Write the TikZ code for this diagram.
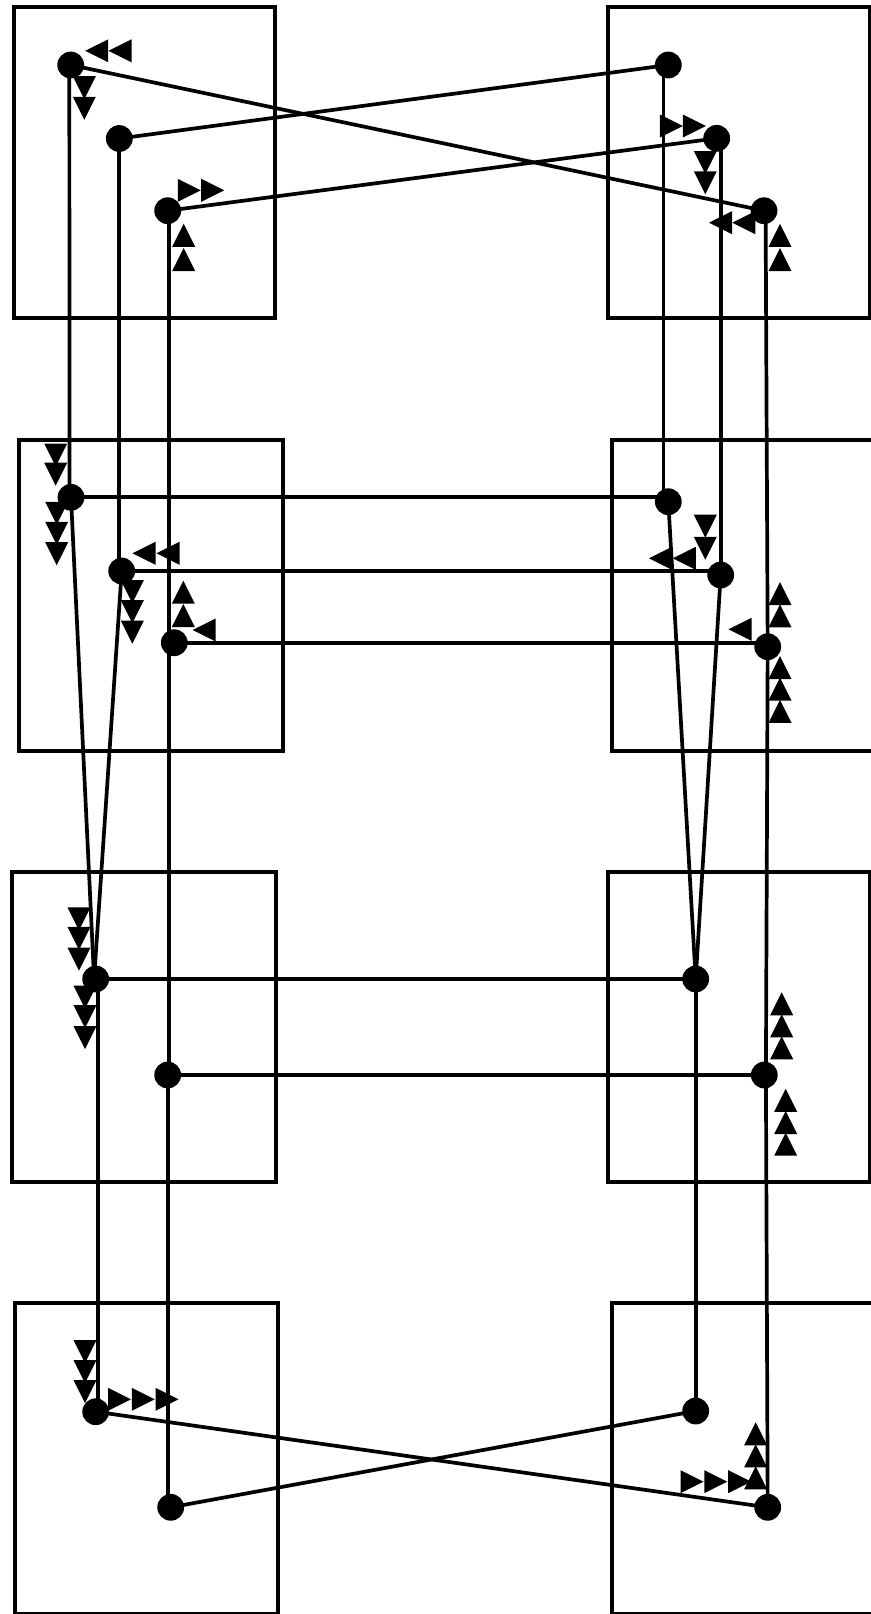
\documentclass[tikz,border=0pt]{standalone}
\begin{document}
\begin{tikzpicture}[x=0.5pt,y=-0.5pt,
  dot/.style={circle,fill=black,draw=none,inner sep=0pt,minimum size=13.4pt},
  link/.style={line width=1.85pt,black},
  frame/.style={line width=1.85pt,black},
  triR/.pic={\fill[black] (-11.5,-11.5) -- (11.5,0) -- (-11.5,11.5) -- cycle;},
  triL/.pic={\fill[black] (11.5,-11.5) -- (-11.5,0) -- (11.5,11.5) -- cycle;},
  triD/.pic={\fill[black] (-11.5,-11.5) -- (0,11.5) -- (11.5,-11.5) -- cycle;},
  triU/.pic={\fill[black] (-11.5,11.5) -- (0,-11.5) -- (11.5,11.5) -- cycle;}]
\useasboundingbox (0,0) rectangle (871,1614);
\fill[white] (0,0) rectangle (871,1614);
\begin{scope}
\clip (0,0) rectangle (871,1614);
% frames
\draw[frame] (13.7,7) rectangle (275.3,318.3);
\draw[frame] (608.3,7) rectangle (870.3,318.3);
\draw[frame] (19,440) rectangle (282.7,750.7);
\draw[frame] (612.3,440) rectangle (874.3,750.7);
\draw[frame] (12.3,872.3) rectangle (276,1182.3);
\draw[frame] (608.3,872.3) rectangle (870.3,1182.3);
\draw[frame] (15,1303.3) rectangle (278.3,1614.3);
\draw[frame] (612.3,1303.3) rectangle (874.3,1614.3);
\end{scope}
% dots
\node[dot] (L1a) at (70.7,65) {};
\node[dot] (L1b) at (119.3,138.5) {};
\node[dot] (L1c) at (167.7,210.7) {};
\node[dot] (R1a) at (668.3,65) {};
\node[dot] (R1b) at (716.7,138.3) {};
\node[dot] (R1c) at (764,210.7) {};
\node[dot] (L2a) at (71,497.3) {};
\node[dot] (L2b) at (121.7,571) {};
\node[dot] (L2c) at (174.3,642.7) {};
\node[dot] (R2a) at (668.3,501.7) {};
\node[dot] (R2b) at (720.7,575) {};
\node[dot] (R2c) at (767.7,646.7) {};
\node[dot] (L3a) at (95.7,979) {};
\node[dot] (L3b) at (167.7,1075) {};
\node[dot] (R3a) at (695.7,979) {};
\node[dot] (R3b) at (764.3,1075) {};
\node[dot] (L4a) at (95.7,1411.7) {};
\node[dot] (L4b) at (170.7,1507.3) {};
\node[dot] (R4a) at (695.7,1411) {};
\node[dot] (R4b) at (767.7,1507.3) {};
% top crossings
\draw[link] (L1a.center) -- (R1c.center);
\draw[link] (L1b.center) -- (R1a.center);
\draw[link] (L1c.center) -- (R1b.center);
% left verticals
\draw[link] ([xshift=-0.7pt]L1a.center) -- ([xshift=-0.7pt]L2a.center);
\draw[link] (L1b.center) -- (L1b.center |- L2b.center);
\draw[link] ([xshift=0.8pt]L1c.center) -- ([xshift=0.8pt]L3b.center);
\draw[link] (L3b.center) -- ([xshift=-1.5pt]L4b.center);
% right verticals
\draw[link] ([xshift=-2.4pt]R1a.center) -- ([xshift=-2.4pt]R2a.center);
\draw[link] (R2b.center |- R1b.center) -- (R2b.center);
\draw[link] ([xshift=0.8pt]R1c.center) -- (R2c.center);
\draw[link] (R2c.center) -- ([xshift=0.8pt]R3b.center);
\draw[link] ([xshift=0.8pt]R3b.center) -- (R4b.center);
% middle horizontals
\draw[link] (L2a.center) -- (L2a.center -| R2a.center);
\draw[link] (L2b.center) -- (L2b.center -| R2b.center);
\draw[link] (L2c.center) -- (L2c.center -| R2c.center);
% converging diagonals
\draw[link] (L2a.center) -- ([xshift=-0.8pt]L3a.center);
\draw[link] (L2b.center) -- ([xshift=-0.8pt]L3a.center);
\draw[link] (R2a.center) -- (R3a.center);
\draw[link] (R2b.center) -- (R3a.center);
% lower horizontals
\draw[link] (L3a.center) -- (R3a.center);
\draw[link] (L3b.center) -- (R3b.center);
% lower verticals
\draw[link] ([xshift=1pt]L3a.center) -- ([xshift=1pt]L4a.center);
\draw[link] (R3a.center) -- (R4a.center);
% bottom crossings
\draw[link] (L4a.center) -- (R4b.center);
\draw[link] (L4b.center) -- (R4a.center);
% markers near L1a
\pic at (96.7,50.8) {triL};
\pic at (120,50.8) {triL};
\pic at (84.3,87.7) {triD};
\pic at (84.3,108.3) {triD};
% L1c
\pic at (189.3,190.3) {triR};
\pic at (212.7,190.3) {triR};
\pic at (183.7,235.3) {triU};
\pic at (183.7,259.5) {triU};
% R1b
\pic at (671.3,126) {triR};
\pic at (694.3,126) {triR};
\pic at (705.3,162.5) {triD};
\pic at (705.3,182.8) {triD};
% R1c
\pic at (720.5,222.7) {triL};
\pic at (743.8,222.7) {triL};
\pic at (780,235.3) {triU};
\pic at (780,259.7) {triU};
% L2a
\pic at (55.7,455) {triD};
\pic at (55.7,474.2) {triD};
\pic at (56.7,513.3) {triD};
\pic at (56.7,533.3) {triD};
\pic at (56.7,553.7) {triD};
% L2b
\pic at (144,553.3) {triL};
\pic at (168,553.3) {triL};
\pic at (132.3,591.7) {triD};
\pic at (132.3,611.7) {triD};
\pic at (132.3,632.2) {triD};
% L2c
\pic at (183.3,592.2) {triU};
\pic at (183.3,615.5) {triU};
\pic at (204.2,630) {triL};
% R2b
\pic at (705.3,526.2) {triD};
\pic at (705.3,548.3) {triD};
\pic at (660.5,558.3) {triL};
\pic at (684.3,558.3) {triL};
% R2c
\pic at (780,593.7) {triU};
\pic at (780,615.8) {triU};
\pic at (740,629.3) {triL};
\pic at (780,667.5) {triU};
\pic at (780,689.2) {triU};
\pic at (780,711.3) {triU};
% L3a
\pic at (79,918.8) {triD};
\pic at (79,938.3) {triD};
\pic at (79,959.2) {triD};
\pic at (85,997) {triD};
\pic at (85,1016.7) {triD};
\pic at (85,1037.5) {triD};
% R3b
\pic at (781.7,1003.8) {triU};
\pic at (781.7,1025.8) {triU};
\pic at (781.7,1047.8) {triU};
\pic at (785.7,1100.3) {triU};
\pic at (785.7,1122.5) {triU};
\pic at (785.7,1144.2) {triU};
% L4a
\pic at (85,1351.7) {triD};
\pic at (85,1371.7) {triD};
\pic at (85,1391.7) {triD};
\pic at (119.5,1399.3) {triR};
\pic at (143.3,1399.3) {triR};
\pic at (167,1399.3) {triR};
% R4b
\pic at (692,1481.7) {triR};
\pic at (715.8,1481.7) {triR};
\pic at (739.7,1481.7) {triR};
\pic at (755.7,1433.8) {triU};
\pic at (755.7,1455.8) {triU};
\pic at (755.7,1477.8) {triU};
\end{tikzpicture}
\end{document}
